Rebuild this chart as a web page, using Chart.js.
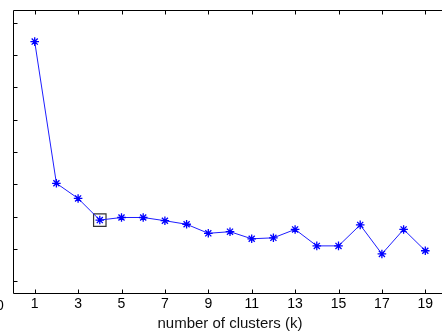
<!DOCTYPE html>
<html><head><meta charset="utf-8">
<script src="https://cdn.jsdelivr.net/npm/chart.js@4.4.1/dist/chart.umd.min.js"></script>
<style>html,body{margin:0;padding:0;background:#fff;overflow:hidden;width:442px;height:333px}canvas{display:block}</style>
</head><body>
<canvas id="c" width="470" height="333" style="width:470px;height:333px"></canvas>
<script>
const clusters = [1,2,3,4,5,6,7,8,9,10,11,12,13,14,15,16,17,18,19];
const sse = [7.42,3.03,2.56,1.89,1.97,1.97,1.87,1.76,1.48,1.53,1.31,1.34,1.60,1.09,1.09,1.74,0.84,1.60,0.94];
const elbowK = [4];
const elbowVal = [1.89];
const xTickValues = [1,3,5,7,9,11,13,15,17,19];
const yTickValues = [0,1,2,3,4,5,6,7,8];
const xTitle = 'number of clusters (k)';
const FONT = '"Liberation Sans", Arial, sans-serif';

const matlabAxes = {
  id: 'matlabAxes',
  afterDraw(chart) {
    const {ctx, chartArea: a, scales: {x, y}} = chart;
    ctx.save();
    ctx.strokeStyle = '#000';
    ctx.lineWidth = 1;
    const L = Math.round(a.left) + 0.5, R = Math.round(a.right) + 0.5;
    const T = Math.round(a.top) + 0.5, B = Math.round(a.bottom) + 0.5;
    ctx.beginPath();
    ctx.rect(L, T, R - L, B - T);
    ctx.stroke();
    ctx.beginPath();
    const tl = 4;
    xTickValues.forEach(v => {
      const px = Math.round(x.getPixelForValue(v)) + 0.5;
      ctx.moveTo(px, B); ctx.lineTo(px, B - tl);
      ctx.moveTo(px, T); ctx.lineTo(px, T + tl);
    });
    yTickValues.forEach(v => {
      const py = Math.round(y.getPixelForValue(v)) + 0.5;
      ctx.moveTo(L, py); ctx.lineTo(L + tl, py);
      ctx.moveTo(R, py); ctx.lineTo(R - tl, py);
    });
    ctx.stroke();
    // partially visible "0" label at far left (clipped by the window edge)
    ctx.fillStyle = '#000';
    ctx.font = '14px ' + FONT;
    ctx.textAlign = 'center';
    ctx.textBaseline = 'middle';
    ctx.fillText('0', x.getPixelForValue(0) - 13, 306);
    ctx.restore();
  }
};

new Chart(document.getElementById('c'), {
  type: 'line',
  data: {
    datasets: [
      {
        data: clusters.map((k, i) => ({x: k, y: sse[i]})),
        borderColor: 'rgb(30,30,255)',
        backgroundColor: 'rgb(30,30,255)',
        borderWidth: 1,
        pointStyle: 'star',
        pointRadius: 4.3,
        pointBorderWidth: 1.3,
        pointBorderColor: 'rgb(0,0,255)',
        tension: 0,
        fill: false
      },
      {
        data: elbowK.map((k, i) => ({x: k, y: elbowVal[i]})),
        showLine: false,
        pointStyle: 'rect',
        pointRadius: 8.8,
        pointBorderWidth: 1.2,
        pointBorderColor: '#333',
        pointBackgroundColor: 'rgba(0,0,0,0)'
      }
    ]
  },
  options: {
    responsive: false,
    animation: false,
    devicePixelRatio: 1,
    layout: {padding: {left: 13, top: 10, right: 23, bottom: 0}},
    plugins: {legend: {display: false}, tooltip: {enabled: false}},
    scales: {
      x: {
        type: 'linear', min: 0, max: 20,
        afterBuildTicks: s => { s.ticks = xTickValues.map(v => ({value: v})); },
        afterFit: s => { s.height = 40; },
        grid: {display: false, drawTicks: false},
        border: {display: false},
        ticks: {color: '#000', font: {family: FONT, size: 14}, padding: 3, autoSkip: false, maxRotation: 0},
        title: {display: true, text: xTitle, color: '#111', font: {family: FONT, size: 15}, padding: {top: 0, bottom: 0}}
      },
      y: {
        type: 'linear', min: -0.37, max: 8.4,
        afterBuildTicks: s => { s.ticks = yTickValues.map(v => ({value: v})); },
        afterFit: s => { s.width = 0; },
        grid: {display: false, drawTicks: false},
        border: {display: false},
        ticks: {display: false}
      }
    }
  },
  plugins: [matlabAxes]
});
</script>
</body></html>
